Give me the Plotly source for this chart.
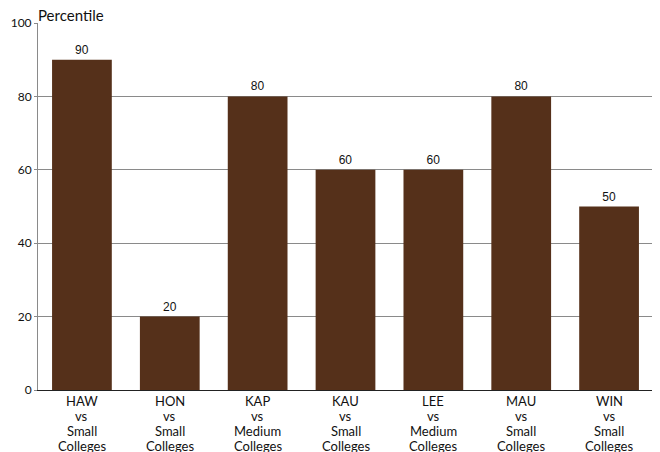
import plotly.graph_objects as go

codes = ["HAW", "HON", "KAP", "KAU", "LEE", "MAU", "WIN"]
groups = ["Small", "Small", "Medium", "Small", "Medium", "Small", "Small"]
values = [90, 20, 80, 60, 60, 80, 50]
y_ticks = [0, 20, 40, 60, 80, 100]

fig = go.Figure(go.Bar(
    x=codes, y=values, marker=dict(color="#55301a", line=dict(width=0)),
    text=[str(v) for v in values], textposition="outside",
    textfont=dict(family="Liberation Sans, Arial", size=12, color="#111"),
    cliponaxis=False,
))

label_font = dict(family="Lato, Open Sans, sans-serif", size=13, color="#111")
annotations = [dict(text="Percentile", xref="paper", yref="paper", x=0, y=1,
                    xanchor="left", yanchor="bottom", xshift=-1, yshift=-2, borderpad=0,
                    showarrow=False,
                    font=dict(family="Lato, sans-serif", size=15, color="#111"))]
for code, grp in zip(codes, groups):
    for i, line in enumerate([code, "vs", grp, "Colleges"]):
        annotations.append(dict(text=line, x=code, xref="x", yref="paper", y=0,
                                yanchor="bottom", yshift=-21 - 15 * i, showarrow=False,
                                font=label_font))

# the page body adds an 8px margin, so the figure is sized to fill the rest
fig.update_layout(
    width=652, height=444,
    margin=dict(l=30, r=7, t=15, b=62),
    paper_bgcolor="white", plot_bgcolor="white",
    bargap=0.32, showlegend=False,
    font=dict(family="Lato, Open Sans, sans-serif", size=12, color="#111"),
    xaxis=dict(showline=True, linecolor="#222", linewidth=1, mirror=False,
               ticks="", showticklabels=False, showgrid=False, automargin=False),
    yaxis=dict(range=[0, 100], tickvals=y_ticks, showgrid=True, gridcolor="#8a8a8a",
               gridwidth=1, showline=True, linecolor="#8a8a8a", linewidth=1,
               ticks="outside", ticklen=3, tickcolor="#8a8a8a", zeroline=False,
               tickfont=dict(size=12), automargin=False),
    shapes=[dict(type="line", xref="paper", yref="paper", x0=1, x1=1, y0=0, y1=1,
                 line=dict(color="#333", width=1))],
    annotations=annotations,
)

fig.write_html("out.html")
